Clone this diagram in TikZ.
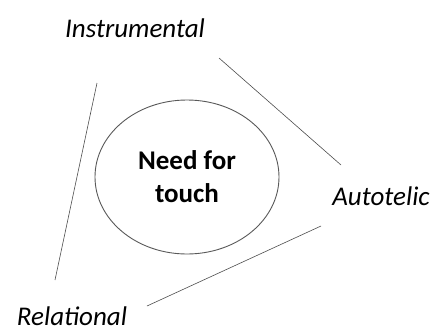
\documentclass[tikz,border=0pt]{standalone}
\usepackage{fontspec}
\setmainfont{Carlito}
\usetikzlibrary{shapes, positioning}

\begin{document}
\begin{tikzpicture}[x=1pt, y=-1pt,
        lbl/.style={anchor=base, font=\fontsize{27}{33}\selectfont\itshape},
        rim/.style={draw=black!70, line width=0.6pt}]
                \useasboundingbox (0,0) rectangle (434,327);
                \node[draw=black!65, line width=0.9pt, ellipse, minimum width=184pt, minimum height=154pt, inner sep=0pt, align=center, font=\fontsize{27}{33}\selectfont\bfseries] (N) at (187,177) {Need for\\touch};
                \node[lbl] (I) at (135,37) {Instrumental};
                \node[lbl] (A) at (381,205) {Autotelic};
                \node[lbl] (R) at (72,325) {Relational};

                \coordinate (ia) at (219,58);
                \coordinate (ai) at (341,165);
                \coordinate (ir) at (97,83);
                \coordinate (ri) at (55,280);
                \coordinate (ar) at (321,226);
                \coordinate (ra) at (147,306);

                \draw[rim] (ia) -- (ai);
                \draw[rim] (ir) -- (ri);
                \draw[rim] (ar) -- (ra);
            \end{tikzpicture}
\end{document}
